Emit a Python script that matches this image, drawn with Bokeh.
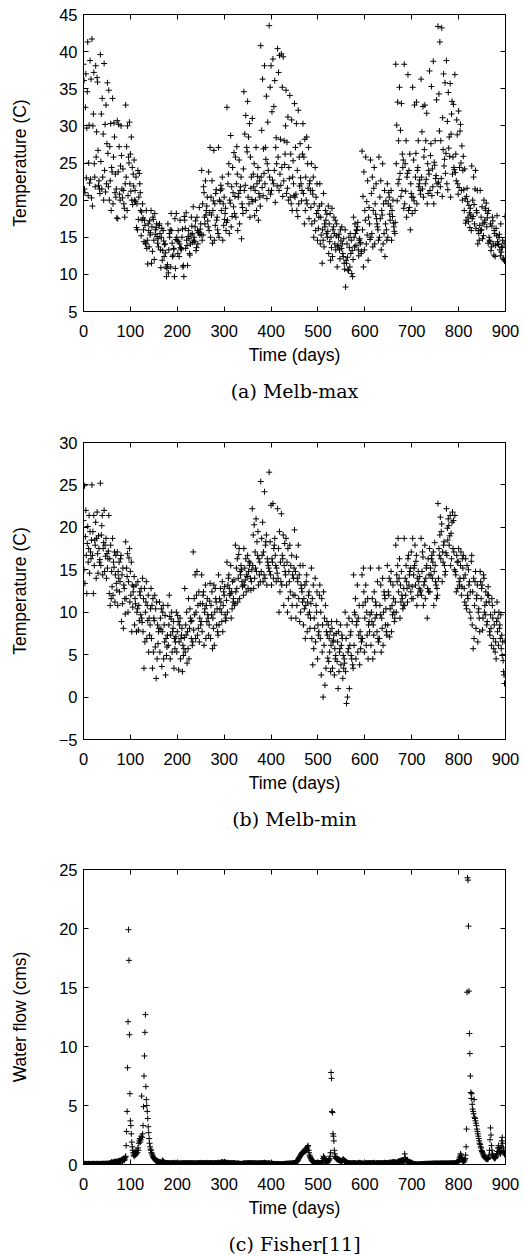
from bokeh.plotting import figure
from bokeh.models import Range1d, LinearAxis, Title, FixedTicker, ColumnDataSource
from bokeh.layouts import column
from bokeh.embed import file_html
from bokeh.resources import INLINE

# ---------------- data ----------------
x_ticks = [0, 100, 200, 300, 400, 500, 600, 700, 800, 900]
max_ticks = [5, 10, 15, 20, 25, 30, 35, 40, 45]
min_ticks = [-5, 0, 5, 10, 15, 20, 25, 30]
flow_ticks = [0, 5, 10, 15, 20, 25]

melb_max = [
    38.3, 36.1, 21.5, 21.0, 32.5, 37.0, 23.0, 29.7, 34.6, 41.3, 20.6, 25.0, 30.1, 22.3, 38.8, 22.8, 36.3, 20.3,
    41.7, 19.2, 30.0, 31.6, 37.2, 24.9, 23.1, 21.8, 38.1, 25.8, 29.2, 36.5, 35.9, 26.7, 22.0, 22.6, 21.5, 20.9,
    39.6, 25.2, 31.6, 21.5, 33.7, 23.1, 28.9, 20.0, 38.4, 24.0, 30.2, 21.1, 32.8, 22.2, 27.6, 35.8, 26.3, 21.8,
    34.8, 20.0, 27.2, 22.6, 30.3, 18.6, 24.4, 23.8, 33.7, 19.5, 25.8, 30.4, 28.5, 21.0, 23.5, 20.4, 21.5, 17.6,
    30.7, 17.5, 23.8, 30.2, 27.2, 20.8, 20.0, 24.6, 30.0, 26.0, 21.5, 20.3, 24.2, 21.3, 19.5, 18.9, 17.7, 22.2,
    32.8, 23.1, 27.2, 18.6, 30.0, 20.6, 25.8, 25.0, 30.5, 22.2, 26.2, 21.2, 28.5, 20.0, 24.4, 19.4, 23.5, 21.9,
    25.4, 20.0, 21.3, 19.8, 23.1, 16.3, 19.5, 16.0, 24.0, 17.4, 20.4, 23.6, 22.2, 21.0, 18.6, 15.2, 18.4, 17.3,
    19.5, 17.6, 16.0, 14.4, 17.3, 16.6, 14.1, 14.2, 18.6, 13.5, 14.6, 11.4, 16.8, 15.9, 13.7, 17.2, 15.3, 15.6,
    18.6, 11.5, 16.4, 13.1, 17.7, 17.4, 14.6, 12.0, 18.2, 15.4, 16.0, 16.3, 16.8, 15.1, 14.2, 14.8, 13.7, 16.6,
    16.8, 15.5, 13.3, 10.9, 15.0, 16.2, 11.9, 13.2, 15.9, 14.5, 12.4, 14.0, 14.1, 12.9, 11.0, 9.7, 10.8, 11.3,
    16.8, 10.2, 13.3, 15.5, 15.0, 16.0, 11.0, 18.2, 15.9, 14.2, 12.4, 12.6, 13.5, 13.4, 9.7, 17.5, 10.8, 14.7,
    18.2, 15.0, 14.6, 12.8, 15.9, 14.4, 12.4, 14.1, 17.3, 13.6, 13.3, 13.5, 15.0, 16.1, 11.0, 11.2, 9.7, 17.8,
    17.3, 16.2, 13.5, 18.3, 14.6, 13.9, 11.2, 15.1, 15.9, 14.8, 12.8, 12.6, 14.1, 15.3, 17.7, 16.5, 15.5, 14.3,
    19.1, 14.6, 15.0, 14.4, 16.4, 17.2, 13.2, 13.6, 17.7, 15.9, 14.1, 15.6, 15.7, 19.0, 15.3, 16.1, 16.8, 15.4,
    24.0, 14.6, 19.5, 15.3, 21.8, 21.0, 17.7, 16.8, 22.6, 18.0, 18.6, 19.2, 20.4, 17.2, 16.4, 23.8, 15.9, 18.3,
    27.1, 15.0, 20.4, 18.0, 22.6, 14.2, 18.6, 19.9, 26.7, 14.6, 19.5, 16.6, 20.9, 21.4, 17.3, 17.7, 16.0, 15.5,
    27.1, 15.0, 20.0, 19.8, 21.3, 22.0, 18.6, 21.5, 23.1, 14.6, 19.5, 16.6, 20.4, 17.4, 18.2, 18.9, 15.9, 17.0,
    32.5, 17.3, 22.2, 23.5, 24.9, 15.5, 20.0, 19.6, 28.7, 16.4, 21.8, 17.8, 24.4, 21.0, 19.1, 26.4, 18.2, 20.5,
    25.8, 17.7, 22.2, 27.2, 23.5, 15.9, 20.4, 20.9, 25.4, 16.8, 21.3, 21.8, 23.1, 14.8, 19.5, 19.0, 18.2, 24.2,
    34.6, 21.3, 28.9, 22.0, 31.4, 18.6, 27.1, 26.5, 33.3, 20.4, 28.5, 19.5, 30.3, 17.7, 25.8, 21.6, 23.1, 20.1,
    31.0, 19.8, 23.5, 21.8, 24.9, 17.9, 21.3, 20.0, 27.1, 18.6, 22.2, 23.2, 24.4, 17.3, 20.9, 22.6, 20.4, 19.2,
    40.8, 23.1, 29.4, 21.7, 36.3, 20.6, 26.9, 23.6, 38.1, 22.2, 27.1, 25.5, 34.0, 20.2, 24.9, 30.5, 24.0, 21.3,
    43.5, 23.1, 35.2, 20.8, 38.1, 21.3, 31.9, 22.7, 39.0, 22.2, 32.6, 24.0, 36.1, 19.7, 27.1, 28.4, 24.9, 21.9,
    40.4, 25.8, 37.2, 21.3, 39.5, 23.5, 28.2, 22.0, 39.7, 24.4, 35.2, 20.5, 39.3, 22.6, 28.0, 24.8, 26.2, 30.0,
    34.8, 20.9, 27.8, 21.6, 31.2, 20.0, 24.4, 22.9, 34.1, 20.4, 26.2, 19.5, 30.8, 18.6, 23.1, 25.3, 22.2, 20.6,
    33.0, 20.4, 27.1, 20.8, 30.3, 18.6, 24.0, 17.8, 32.1, 19.5, 25.8, 21.9, 27.6, 23.0, 22.2, 19.9, 21.3, 26.2,
    30.3, 20.9, 25.8, 16.8, 28.2, 18.6, 23.1, 20.0, 28.5, 19.5, 24.9, 21.6, 27.1, 17.5, 22.2, 22.6, 21.3, 19.0,
    24.9, 16.8, 21.3, 20.8, 23.1, 15.0, 19.5, 17.2, 24.4, 15.9, 20.4, 18.2, 22.2, 14.6, 18.6, 16.2, 17.7, 19.2,
    22.2, 14.1, 17.7, 15.3, 19.5, 11.5, 16.0, 14.6, 20.9, 13.7, 16.8, 16.4, 18.6, 17.3, 15.5, 18.1, 15.0, 15.8,
    19.2, 12.8, 16.8, 14.4, 18.2, 11.9, 15.0, 13.6, 18.9, 12.4, 16.0, 16.4, 17.7, 15.5, 14.1, 17.3, 13.3, 15.2,
    16.8, 11.0, 13.7, 13.9, 15.0, 15.4, 13.3, 12.1, 16.0, 14.5, 13.5, 16.4, 14.1, 12.8, 12.4, 14.8, 11.5, 10.7,
    16.0, 8.3, 11.9, 11.5, 14.1, 12.3, 10.6, 10.5, 15.0, 13.6, 11.0, 15.5, 12.8, 14.6, 10.1, 13.2, 9.7, 12.0,
    17.7, 15.0, 13.7, 16.8, 15.5, 13.9, 16.0, 15.9, 16.4, 17.0, 13.3, 12.5, 14.6, 14.8, 14.1, 14.3, 12.8, 13.1,
    26.6, 16.0, 20.5, 11.0, 23.8, 13.3, 18.6, 17.3, 25.8, 14.1, 19.8, 15.3, 22.6, 11.9, 17.7, 19.0, 16.8, 14.7,
    25.4, 15.0, 20.9, 15.5, 23.1, 13.7, 18.6, 21.6, 24.4, 14.1, 19.5, 18.1, 22.2, 17.5, 16.8, 16.4, 16.0, 14.6,
    25.8, 15.0, 20.4, 17.5, 22.6, 13.3, 18.6, 18.0, 24.9, 14.1, 19.5, 15.5, 21.3, 12.4, 16.8, 19.9, 16.0, 14.6,
    22.2, 15.0, 19.5, 21.0, 20.4, 18.1, 17.3, 19.2, 21.3, 14.6, 18.6, 17.8, 20.0, 16.9, 16.4, 15.8, 15.5, 17.0,
    38.3, 24.9, 30.1, 19.9, 33.2, 22.2, 28.0, 22.8, 35.2, 23.6, 29.4, 20.5, 33.0, 21.3, 26.2, 24.4, 25.4, 18.9,
    38.3, 19.5, 24.9, 21.2, 28.0, 17.7, 23.1, 23.6, 36.9, 18.6, 24.0, 19.0, 26.2, 16.0, 22.2, 20.9, 20.4, 18.2,
    35.2, 20.4, 25.4, 19.9, 32.8, 18.6, 23.1, 26.3, 33.2, 19.5, 24.0, 24.4, 28.0, 21.8, 22.2, 22.7, 21.3, 20.8,
    36.3, 23.1, 29.2, 21.5, 32.6, 20.4, 25.8, 26.8, 32.8, 22.2, 28.0, 22.8, 31.7, 19.5, 24.9, 20.9, 24.0, 23.5,
    37.4, 21.3, 26.0, 27.6, 35.3, 20.6, 24.2, 21.8, 38.7, 19.5, 25.1, 24.7, 28.0, 22.9, 23.3, 33.5, 22.2, 21.0,
    43.4, 22.4, 34.3, 29.3, 41.3, 21.8, 28.0, 22.9, 43.2, 20.5, 31.1, 26.8, 37.0, 24.6, 25.5, 35.8, 23.6, 26.3,
    38.8, 22.2, 30.6, 21.4, 34.5, 27.0, 28.5, 25.9, 35.7, 20.4, 28.9, 31.6, 33.3, 23.5, 25.8, 32.9, 24.4, 24.1,
    36.9, 23.7, 26.2, 22.6, 30.8, 28.8, 22.2, 20.8, 32.0, 21.7, 24.4, 29.3, 30.2, 25.0, 21.3, 27.3, 20.0, 24.0,
    25.9, 21.4, 18.6, 24.2, 20.2, 16.9, 17.3, 20.5, 21.6, 19.8, 17.7, 17.1, 19.3, 18.3, 16.3, 18.9, 18.0, 15.9,
    24.6, 17.5, 20.0, 17.8, 23.1, 19.4, 16.8, 21.5, 24.0, 16.2, 18.6, 18.3, 21.3, 14.1, 15.9, 15.5, 14.6, 16.6,
    21.3, 15.9, 17.7, 16.0, 19.1, 14.8, 16.8, 15.2, 20.0, 17.0, 17.3, 18.9, 18.6, 19.6, 16.4, 17.6, 18.2, 14.2,
    18.6, 15.0, 14.6, 14.4, 16.8, 13.2, 13.7, 16.5, 17.7, 17.2, 14.1, 12.6, 15.9, 15.5, 12.4, 13.9, 16.2, 15.2,
    17.9, 14.4, 14.1, 14.0, 15.0, 15.4, 13.3, 12.5, 16.8, 13.0, 13.7, 13.6, 14.6, 12.2, 12.0, 14.2, 11.8, 17.8,
]

melb_min = [
    20.8, 15.0, 24.9, 13.4, 18.9, 22.0, 16.7, 12.2, 18.1, 20.1, 15.9, 17.5, 21.4, 14.6, 19.5, 17.1, 16.3, 18.5,
    25.0, 16.7, 19.5, 12.2, 21.4, 15.5, 18.5, 17.9, 20.6, 14.0, 18.7, 21.8, 16.9, 14.6, 19.0, 17.5, 15.9, 16.2,
    25.2, 15.5, 19.1, 20.2, 21.4, 14.4, 17.5, 18.2, 22.0, 14.8, 17.9, 16.6, 18.7, 14.0, 16.9, 15.2, 16.3, 17.2,
    21.4, 12.2, 16.3, 10.8, 17.9, 11.6, 14.8, 13.0, 18.7, 12.0, 15.9, 15.3, 17.1, 11.2, 14.4, 16.7, 13.4, 12.6,
    17.1, 10.8, 14.8, 14.0, 15.9, 12.4, 13.6, 16.3, 16.7, 8.9, 14.4, 11.0, 15.2, 8.1, 13.2, 12.8, 11.6, 9.8,
    18.3, 11.6, 15.2, 14.2, 16.9, 10.0, 13.6, 16.4, 17.5, 11.2, 14.8, 12.0, 15.9, 7.7, 13.2, 10.6, 12.4, 13.0,
    14.2, 8.5, 11.6, 11.0, 13.2, 7.7, 10.0, 10.4, 13.6, 7.9, 10.8, 9.0, 12.4, 12.0, 9.7, 12.8, 9.3, 8.8,
    14.0, 7.7, 11.6, 3.4, 12.8, 6.5, 10.0, 11.2, 13.6, 6.9, 10.8, 9.0, 12.0, 5.3, 9.3, 7.3, 8.5, 10.4,
    12.8, 6.9, 10.8, 3.4, 11.6, 5.3, 9.3, 9.0, 12.0, 5.9, 10.4, 2.2, 11.2, 4.5, 8.5, 6.3, 7.7, 8.1,
    11.2, 5.3, 9.3, 8.0, 10.4, 3.6, 7.7, 10.0, 10.8, 4.5, 8.5, 6.5, 9.6, 2.6, 6.9, 4.9, 5.9, 7.3,
    10.8, 6.1, 8.5, 12.0, 9.5, 4.5, 7.3, 9.2, 10.0, 5.3, 7.7, 8.1, 8.9, 3.4, 6.9, 5.7, 6.5, 7.1,
    10.0, 5.3, 7.7, 9.6, 8.9, 3.2, 6.5, 8.5, 9.3, 4.5, 6.9, 7.3, 8.1, 3.0, 6.1, 4.9, 5.7, 7.0,
    12.8, 5.3, 8.5, 7.3, 10.0, 4.0, 7.7, 5.7, 11.6, 4.5, 8.1, 10.4, 9.3, 8.9, 6.9, 9.0, 6.1, 6.5,
    17.1, 7.9, 11.6, 9.7, 14.4, 6.9, 10.0, 12.0, 14.8, 7.3, 10.8, 8.1, 12.4, 6.5, 9.3, 11.0, 8.5, 8.9,
    14.4, 7.7, 11.0, 12.0, 12.4, 6.1, 10.0, 10.4, 13.2, 6.9, 10.8, 8.9, 11.6, 9.7, 9.3, 7.3, 8.5, 11.3,
    13.4, 6.9, 10.8, 9.7, 12.4, 5.7, 9.3, 8.1, 13.2, 6.1, 10.0, 12.8, 11.6, 11.2, 8.5, 10.4, 7.7, 7.3,
    14.4, 8.5, 11.6, 10.4, 12.8, 11.2, 10.0, 8.9, 13.6, 7.7, 10.8, 12.4, 12.0, 13.0, 9.7, 9.0, 9.3, 11.4,
    15.9, 10.0, 13.2, 14.0, 14.4, 12.8, 12.0, 12.2, 15.5, 9.3, 12.4, 10.4, 13.6, 11.2, 11.6, 13.8, 10.8, 11.0,
    17.9, 12.4, 15.2, 12.8, 16.3, 11.2, 14.0, 16.8, 17.5, 11.6, 14.8, 14.4, 15.5, 15.0, 13.6, 13.0, 13.2, 12.0,
    17.5, 13.2, 15.2, 13.8, 16.3, 12.4, 14.4, 14.2, 16.7, 12.8, 14.8, 16.0, 15.5, 15.8, 14.0, 12.6, 13.6, 15.0,
    22.2, 15.5, 19.1, 12.8, 20.3, 14.0, 17.1, 15.2, 21.0, 14.8, 18.3, 16.7, 19.5, 13.2, 16.3, 14.4, 15.9, 13.6,
    25.4, 14.8, 18.7, 16.7, 20.6, 13.6, 17.1, 14.4, 24.2, 14.0, 17.9, 18.3, 19.1, 13.2, 16.3, 15.9, 15.5, 15.2,
    26.5, 14.8, 18.3, 14.4, 22.6, 13.2, 16.3, 15.9, 22.8, 14.0, 17.5, 17.9, 18.7, 16.7, 15.5, 13.6, 15.2, 14.6,
    22.2, 14.0, 17.5, 10.0, 19.5, 12.4, 15.9, 13.6, 21.6, 13.2, 16.7, 16.3, 19.1, 10.8, 15.5, 18.1, 14.8, 14.4,
    18.7, 13.2, 15.9, 10.0, 17.5, 11.6, 14.8, 13.6, 17.9, 12.4, 15.5, 9.3, 16.7, 10.8, 14.4, 12.0, 14.0, 15.2,
    19.7, 12.0, 14.8, 9.3, 16.5, 10.8, 14.0, 13.6, 17.9, 11.6, 14.4, 8.9, 15.5, 10.0, 13.2, 12.8, 12.4, 11.2,
    15.5, 8.5, 11.6, 10.4, 13.2, 6.9, 10.8, 13.6, 14.4, 7.7, 11.2, 9.7, 12.0, 12.4, 10.0, 8.1, 9.3, 11.0,
    15.2, 6.9, 11.6, 3.8, 13.2, 5.7, 9.3, 8.1, 14.0, 6.5, 10.8, 10.0, 12.4, 4.5, 8.5, 7.3, 7.7, 12.0,
    13.2, 6.9, 10.0, 2.6, 11.6, 5.3, 8.5, 0.0, 12.4, 6.1, 9.3, 1.4, 10.8, 3.4, 7.7, 8.9, 7.3, 4.6,
    8.5, 4.2, 6.9, 5.3, 7.7, 3.0, 6.1, 8.9, 8.1, 3.4, 6.5, 6.7, 7.3, 2.6, 5.7, 4.5, 4.9, 7.5,
    8.9, 4.2, 6.5, 1.0, 7.7, 3.0, 5.3, 5.7, 8.5, 3.8, 6.1, 7.3, 6.9, 2.2, 4.9, 3.4, 4.5, 4.0,
    10.0, 3.0, 6.9, -0.75, 8.5, 0.0, 5.3, 5.7, 9.3, 1.0, 6.1, 7.3, 7.7, 4.9, 4.5, 8.9, 3.8, 3.4,
    14.4, 6.1, 10.0, 9.7, 11.6, 4.5, 8.5, 8.9, 13.2, 5.3, 9.3, 7.3, 10.8, 3.8, 7.7, 5.7, 6.9, 6.5,
    14.4, 6.9, 10.8, 15.2, 12.4, 5.3, 9.3, 11.2, 13.2, 6.1, 10.0, 7.3, 11.6, 4.5, 8.5, 8.9, 7.7, 9.7,
    15.2, 6.1, 10.0, 8.9, 11.6, 4.5, 8.5, 7.3, 12.4, 5.3, 9.3, 11.2, 10.8, 9.7, 7.7, 13.6, 6.9, 6.5,
    15.2, 6.9, 10.8, 9.7, 13.2, 5.3, 9.3, 8.1, 14.0, 6.1, 10.0, 12.4, 12.0, 11.6, 8.5, 10.4, 7.7, 7.3,
    15.5, 8.5, 12.4, 12.0, 14.0, 7.1, 10.4, 13.6, 14.8, 7.7, 10.8, 9.7, 13.2, 11.6, 10.0, 8.9, 9.3, 11.2,
    17.9, 10.0, 14.4, 13.6, 15.5, 18.7, 12.4, 14.0, 16.3, 9.3, 13.2, 11.2, 14.8, 12.0, 11.6, 10.4, 10.8, 12.8,
    18.7, 10.8, 14.0, 12.0, 15.5, 13.6, 12.8, 11.2, 16.3, 16.7, 13.2, 14.4, 14.8, 15.2, 12.4, 17.1, 11.6, 13.0,
    18.7, 11.6, 14.4, 15.2, 15.5, 17.9, 13.2, 16.0, 16.7, 10.8, 14.0, 12.0, 14.8, 13.6, 12.8, 14.2, 12.4, 12.6,
    18.7, 12.0, 14.8, 17.1, 16.5, 10.8, 13.2, 13.6, 17.9, 11.6, 14.0, 15.2, 15.5, 9.3, 12.8, 16.3, 12.4, 14.4,
    17.5, 12.4, 15.2, 14.4, 16.3, 16.7, 14.0, 15.9, 17.1, 10.8, 14.8, 18.2, 15.5, 13.6, 13.2, 11.6, 12.8, 12.0,
    22.8, 14.0, 17.5, 16.7, 19.1, 21.2, 16.3, 19.5, 20.4, 13.6, 17.1, 15.9, 17.9, 18.3, 15.5, 14.4, 14.8, 17.0,
    22.2, 16.7, 19.9, 18.5, 21.0, 20.2, 17.9, 19.0, 21.4, 15.5, 19.3, 16.3, 20.6, 21.8, 17.5, 20.8, 17.1, 15.0,
    21.4, 14.8, 14.4, 12.4, 16.7, 15.9, 12.8, 16.0, 17.5, 13.6, 13.2, 14.0, 15.5, 17.1, 12.0, 13.0, 16.3, 15.2,
    16.7, 14.0, 12.8, 11.2, 14.4, 16.3, 10.8, 10.4, 15.5, 12.0, 11.6, 15.0, 13.2, 13.6, 10.0, 12.4, 9.3, 16.0,
    16.7, 8.5, 12.4, 5.7, 14.0, 6.9, 10.8, 13.6, 14.8, 8.1, 11.6, 12.0, 13.2, 6.5, 10.0, 10.4, 9.3, 7.7,
    14.8, 13.6, 11.6, 12.8, 13.2, 7.9, 9.3, 14.4, 14.0, 10.0, 10.8, 9.7, 12.4, 11.2, 8.5, 8.9, 12.0, 13.0,
    12.0, 11.2, 7.7, 7.3, 9.7, 8.1, 6.1, 11.6, 10.8, 9.3, 6.9, 5.7, 8.5, 10.0, 5.3, 6.5, 4.5, 8.9,
    11.2, 7.7, 9.3, 6.1, 10.0, 8.1, 8.5, 6.9, 9.7, 5.7, 7.3, 4.9, 6.5, 4.3, 3.0, 2.6, 1.6, 6.6,
]

fisher_flow = [
    0.05, 0.04, 0.05, 0.06, 0.05, 0.04, 0.04, 0.05, 0.05, 0.04, 0.04, 0.05, 0.06, 0.05, 0.04, 0.04, 0.05, 0.04,
    0.04, 0.05, 0.05, 0.04, 0.06, 0.05, 0.05, 0.04, 0.04, 0.05, 0.05, 0.06, 0.05, 0.04, 0.05, 0.05, 0.04, 0.05,
    0.05, 0.05, 0.06, 0.05, 0.04, 0.05, 0.06, 0.06, 0.05, 0.05, 0.06, 0.05, 0.06, 0.07, 0.06, 0.05, 0.06, 0.07,
    0.07, 0.08, 0.08, 0.1, 0.12, 0.15, 0.2, 0.18, 0.15, 0.12, 0.15, 0.2, 0.25, 0.2, 0.18, 0.22, 0.25, 0.2,
    0.2, 0.25, 0.3, 0.22, 0.28, 0.3, 0.35, 0.25, 0.3, 0.4, 0.35, 0.3, 0.45, 0.4, 0.5, 0.35, 0.45, 0.6,
    0.7, 1.6, 2.8, 4.5, 8.2, 12.1, 19.9, 17.3, 11.0, 6.0, 3.7, 3.3, 2.6, 1.9, 1.5, 1.2, 1.0, 0.8,
    0.7, 0.9, 1.1, 0.8, 1.0, 0.9, 1.2, 1.0, 1.4, 1.2, 1.8, 2.0, 2.2, 1.9, 2.1, 2.4, 5.8, 2.3,
    2.6, 3.3, 4.9, 7.5, 9.2, 11.2, 12.7, 6.6, 5.5, 5.0, 4.5, 3.9, 3.2, 2.7, 2.2, 1.8, 1.5, 1.3,
    1.2, 1.0, 0.9, 0.8, 0.7, 0.6, 0.55, 0.5, 0.45, 0.4, 0.35, 0.3, 0.3, 0.25, 0.3, 0.2, 0.25, 0.2,
    0.2, 0.15, 0.2, 0.15, 0.12, 0.15, 0.3, 0.35, 0.25, 0.2, 0.15, 0.15, 0.12, 0.1, 0.12, 0.1, 0.12, 0.1,
    0.1, 0.12, 0.1, 0.08, 0.1, 0.12, 0.1, 0.08, 0.1, 0.1, 0.08, 0.1, 0.12, 0.15, 0.12, 0.1, 0.1, 0.08,
    0.08, 0.1, 0.1, 0.12, 0.1, 0.08, 0.06, 0.08, 0.1, 0.08, 0.06, 0.08, 0.1, 0.1, 0.08, 0.1, 0.12, 0.1,
    0.1, 0.08, 0.1, 0.12, 0.1, 0.1, 0.08, 0.1, 0.12, 0.1, 0.08, 0.08, 0.1, 0.1, 0.12, 0.1, 0.08, 0.1,
    0.1, 0.12, 0.1, 0.08, 0.06, 0.08, 0.1, 0.08, 0.1, 0.12, 0.1, 0.1, 0.08, 0.1, 0.12, 0.14, 0.12, 0.1,
    0.1, 0.08, 0.1, 0.1, 0.12, 0.1, 0.08, 0.1, 0.1, 0.12, 0.14, 0.12, 0.1, 0.1, 0.08, 0.1, 0.12, 0.1,
    0.1, 0.12, 0.1, 0.1, 0.08, 0.1, 0.12, 0.1, 0.08, 0.1, 0.1, 0.12, 0.1, 0.08, 0.1, 0.1, 0.12, 0.14,
    0.15, 0.12, 0.1, 0.1, 0.12, 0.15, 0.18, 0.2, 0.18, 0.15, 0.12, 0.15, 0.2, 0.22, 0.18, 0.15, 0.12, 0.1,
    0.12, 0.15, 0.12, 0.1, 0.1, 0.12, 0.1, 0.08, 0.1, 0.1, 0.12, 0.1, 0.08, 0.1, 0.12, 0.1, 0.08, 0.1,
    0.1, 0.08, 0.06, 0.05, 0.06, 0.08, 0.1, 0.08, 0.06, 0.05, 0.04, 0.05, 0.06, 0.05, 0.04, 0.05, 0.06, 0.08,
    0.08, 0.1, 0.08, 0.06, 0.08, 0.1, 0.12, 0.1, 0.08, 0.1, 0.12, 0.1, 0.08, 0.1, 0.1, 0.12, 0.1, 0.08,
    0.1, 0.1, 0.08, 0.1, 0.12, 0.1, 0.1, 0.08, 0.06, 0.08, 0.1, 0.08, 0.06, 0.08, 0.1, 0.12, 0.1, 0.08,
    0.08, 0.1, 0.12, 0.1, 0.1, 0.08, 0.1, 0.12, 0.15, 0.12, 0.1, 0.08, 0.1, 0.1, 0.08, 0.06, 0.08, 0.1,
    0.1, 0.08, 0.06, 0.05, 0.06, 0.05, 0.04, 0.05, 0.06, 0.05, 0.04, 0.03, 0.04, 0.05, 0.04, 0.03, 0.04, 0.05,
    0.04, 0.03, 0.02, 0.03, 0.02, 0.0, 0.01, 0.02, 0.03, 0.02, 0.03, 0.04, 0.03, 0.04, 0.05, 0.04, 0.05, 0.06,
    0.05, 0.06, 0.05, 0.06, 0.08, 0.06, 0.05, 0.06, 0.08, 0.1, 0.08, 0.06, 0.08, 0.1, 0.08, 0.1, 0.12, 0.1,
    0.1, 0.12, 0.15, 0.15, 0.2, 0.25, 0.3, 0.35, 0.45, 0.5, 0.6, 0.65, 0.7, 0.8, 0.85, 0.9, 1.0, 0.95,
    1.0, 1.1, 1.05, 1.2, 1.1, 1.3, 1.2, 1.25, 1.4, 1.3, 1.5, 1.6, 1.2, 1.0, 0.8, 0.7, 0.6, 0.5,
    0.4, 0.35, 0.3, 0.25, 0.2, 0.2, 0.15, 0.15, 0.12, 0.1, 0.1, 0.12, 0.1, 0.1, 0.15, 0.12, 0.1, 0.12,
    0.12, 0.1, 0.12, 0.1, 0.15, 0.2, 0.3, 0.5, 0.7, 0.6, 0.5, 0.4, 0.3, 0.25, 0.2, 0.15, 0.15, 0.2,
    0.3, 0.35, 0.4, 0.5, 0.7, 1.0, 7.8, 7.3, 4.5, 4.4, 2.6, 2.4, 2.0, 1.2, 0.9, 0.7, 0.6, 0.5,
    0.5, 0.45, 0.4, 0.45, 0.4, 0.35, 0.4, 0.3, 0.35, 0.3, 0.25, 0.3, 0.35, 0.4, 0.45, 0.4, 0.35, 0.3,
    0.3, 0.25, 0.2, 0.2, 0.15, 0.15, 0.12, 0.1, 0.1, 0.12, 0.1, 0.08, 0.1, 0.08, 0.1, 0.1, 0.08, 0.1,
    0.1, 0.08, 0.1, 0.12, 0.1, 0.08, 0.06, 0.08, 0.1, 0.08, 0.1, 0.12, 0.15, 0.12, 0.1, 0.08, 0.1, 0.1,
    0.08, 0.06, 0.05, 0.06, 0.08, 0.1, 0.08, 0.06, 0.08, 0.1, 0.12, 0.1, 0.08, 0.1, 0.1, 0.12, 0.1, 0.08,
    0.1, 0.1, 0.12, 0.1, 0.08, 0.1, 0.12, 0.15, 0.12, 0.1, 0.08, 0.06, 0.08, 0.1, 0.12, 0.1, 0.08, 0.1,
    0.1, 0.12, 0.1, 0.08, 0.1, 0.1, 0.12, 0.1, 0.1, 0.08, 0.1, 0.12, 0.15, 0.12, 0.1, 0.1, 0.12, 0.1,
    0.1, 0.12, 0.15, 0.12, 0.1, 0.12, 0.15, 0.18, 0.15, 0.12, 0.15, 0.18, 0.2, 0.18, 0.15, 0.18, 0.2, 0.18,
    0.1, 0.12, 0.15, 0.2, 0.2, 0.25, 0.2, 0.25, 0.3, 0.25, 0.3, 0.3, 0.35, 0.3, 0.3, 0.35, 0.3, 0.25,
    0.3, 0.9, 0.6, 0.4, 0.3, 0.3, 0.25, 0.3, 0.25, 0.2, 0.25, 0.2, 0.2, 0.15, 0.15, 0.1, 0.1, 0.1,
    0.08, 0.06, 0.05, 0.04, 0.03, 0.02, 0.02, 0.01, 0.0, 0.01, 0.0, 0.0, 0.01, 0.02, 0.01, 0.0, 0.0, 0.01,
    0.02, 0.03, 0.02, 0.03, 0.04, 0.03, 0.04, 0.05, 0.04, 0.05, 0.06, 0.05, 0.04, 0.05, 0.06, 0.05, 0.06, 0.05,
    0.06, 0.05, 0.06, 0.07, 0.06, 0.05, 0.06, 0.07, 0.08, 0.07, 0.06, 0.07, 0.08, 0.07, 0.06, 0.07, 0.08, 0.07,
    0.07, 0.08, 0.07, 0.06, 0.07, 0.08, 0.07, 0.08, 0.09, 0.08, 0.07, 0.08, 0.09, 0.08, 0.07, 0.08, 0.07, 0.08,
    0.08, 0.07, 0.08, 0.09, 0.08, 0.07, 0.08, 0.09, 0.1, 0.09, 0.08, 0.09, 0.1, 0.09, 0.08, 0.09, 0.1, 0.1,
    0.1, 0.1, 0.12, 0.12, 0.15, 0.15, 0.2, 0.25, 0.3, 0.4, 0.55, 0.7, 0.9, 0.8, 0.6, 0.5, 0.4, 0.3,
    0.25, 0.2, 0.3, 0.4, 0.5, 0.8, 1.5, 3.0, 14.6, 24.3, 24.1, 20.2, 14.7, 11.1, 9.4, 7.5, 6.1, 5.6,
    6.0, 5.1, 4.7, 4.5, 4.3, 5.5, 4.0, 3.9, 3.7, 3.5, 3.3, 3.0, 2.8, 2.6, 2.4, 2.2, 2.0, 1.8,
    1.7, 1.5, 1.4, 1.2, 1.1, 1.0, 0.9, 0.8, 0.7, 0.65, 0.6, 0.55, 0.5, 0.5, 0.45, 0.5, 0.45, 0.5,
    0.6, 0.8, 1.2, 2.1, 3.1, 2.5, 1.6, 1.2, 0.9, 0.8, 0.7, 0.6, 0.6, 0.5, 0.55, 0.6, 0.7, 0.8,
    0.9, 1.1, 1.4, 1.6, 1.4, 1.2, 1.0, 0.9, 1.1, 1.5, 2.0, 2.3, 1.8, 1.4, 1.2, 1.0, 0.9, 0.8,
]

panels = [
    dict(values=melb_max, yr=(5, 45), yticks=max_ticks, ylabel="Temperature (C)",
         caption="(a) Melb-max", top=14, bottom=109, fh=297),
    dict(values=melb_min, yr=(-5, 30), yticks=min_ticks, ylabel="Temperature (C)",
         caption="(b) Melb-min", top=22, bottom=107, fh=297),
    dict(values=fisher_flow, yr=(0, 25), yticks=flow_ticks, ylabel="Water flow (cms)",
         caption="(c) Fisher[11]", top=23, bottom=91, fh=295),
]

SANS = "Liberation Sans"
TICK_FS = "16.5px"
LABEL_FS = "17.5px"


def style_axis(ax, ticks, show_labels=True):
    ax.ticker = FixedTicker(ticks=ticks)
    ax.minor_tick_line_color = None
    ax.major_tick_in = 5
    ax.major_tick_out = 0
    ax.major_tick_line_color = "black"
    ax.axis_line_color = "black"
    ax.major_label_text_font = SANS
    ax.axis_label_text_font = SANS
    ax.axis_label_text_font_size = LABEL_FS
    ax.axis_label_text_font_style = "normal"
    ax.axis_label_text_color = "black"
    if show_labels:
        ax.major_label_text_font_size = TICK_FS
        ax.major_label_text_color = "black"
        ax.major_label_standoff = 13
    else:
        # tick marks only (mirror axis): labels are not painted
        ax.major_label_text_font_size = "1px"
        ax.major_label_text_color = None
        ax.major_label_standoff = 0


figs = []
for cfg in panels:
    vals = cfg["values"]
    days = list(range(len(vals)))
    p = figure(frame_width=422, frame_height=cfg["fh"], output_backend="svg",
               toolbar_location=None,
               x_range=Range1d(0, 900), y_range=Range1d(*cfg["yr"]),
               min_border_left=83, min_border_right=19,
               min_border_top=cfg["top"], min_border_bottom=cfg["bottom"],
               x_axis_label="Time (days)", y_axis_label=cfg["ylabel"])
    p.xgrid.visible = False
    p.ygrid.visible = False
    p.outline_line_color = "black"
    p.outline_line_width = 1
    p.background_fill_color = "white"
    p.border_fill_color = "white"

    src = ColumnDataSource(dict(day=days, val=vals))
    p.scatter("day", "val", source=src, marker="cross", size=6,
              line_color="black", line_width=1)

    style_axis(p.xaxis[0], x_ticks)
    p.xaxis[0].axis_label_standoff = 5
    style_axis(p.yaxis[0], cfg["yticks"])
    p.yaxis[0].major_label_standoff = 6
    p.yaxis[0].axis_label_standoff = 26

    top_ax = LinearAxis()
    style_axis(top_ax, x_ticks, show_labels=False)
    p.add_layout(top_ax, "above")
    right_ax = LinearAxis()
    style_axis(right_ax, cfg["yticks"], show_labels=False)
    p.add_layout(right_ax, "right")

    cap = Title(text=cfg["caption"], align="center", text_font="DejaVu Serif",
                text_font_size="19px", text_font_style="normal", text_color="black",
                standoff=21)
    p.add_layout(cap, "below")
    figs.append(p)

layout = column(*figs, spacing=0)
open("out.html", "w").write(file_html(layout, INLINE))
